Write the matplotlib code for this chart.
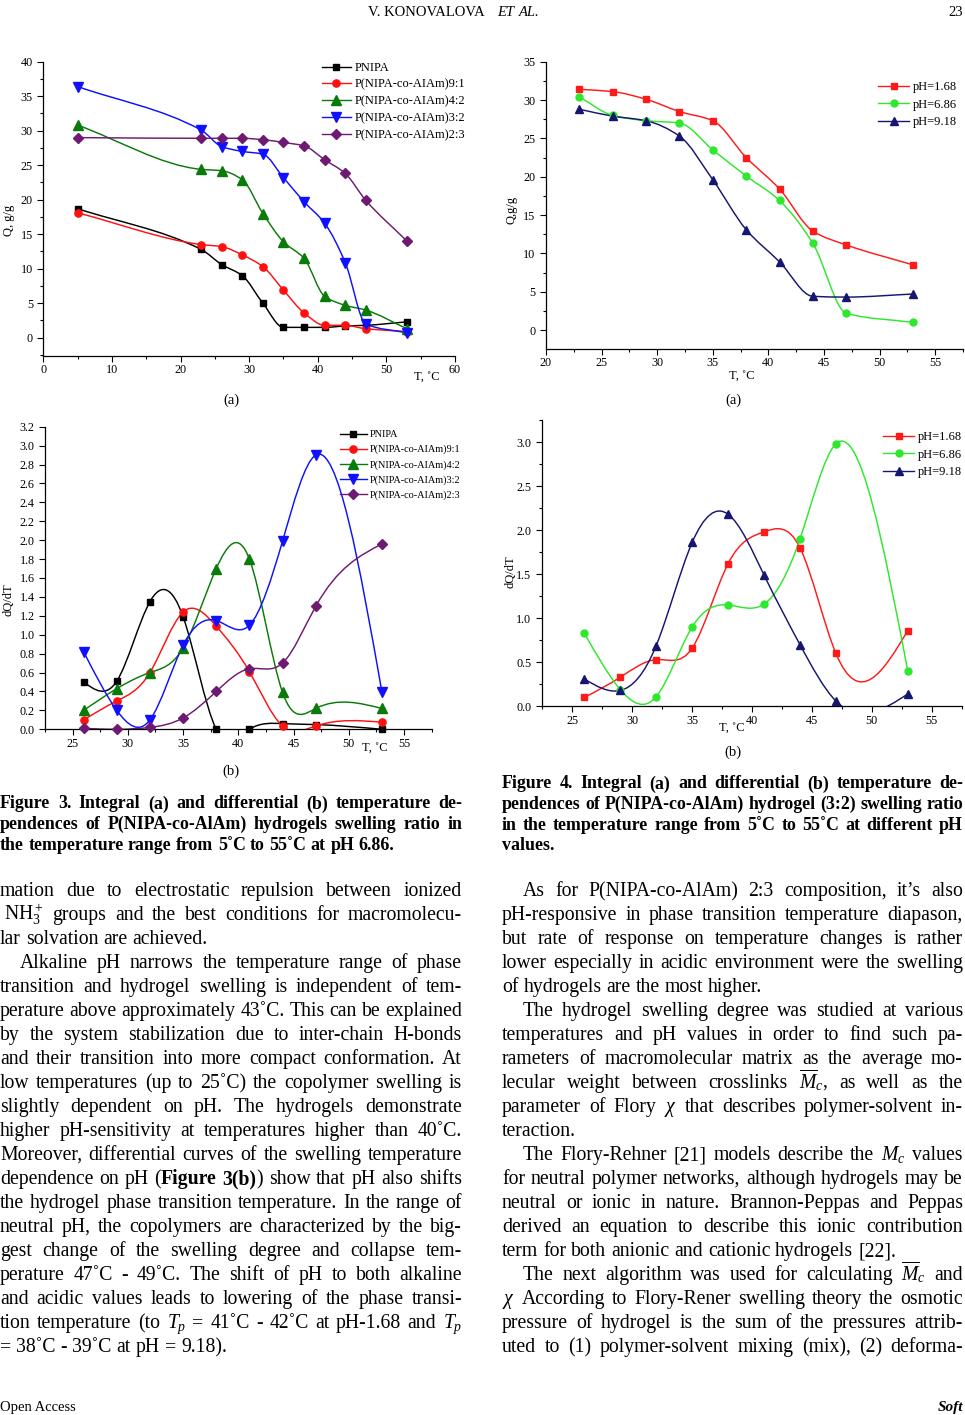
import numpy as np
import matplotlib
matplotlib.use('Agg')
import matplotlib.pyplot as plt
from matplotlib.path import Path
from matplotlib.patches import PathPatch
from matplotlib.lines import Line2D
from matplotlib.ticker import MultipleLocator

plt.rcParams['font.family'] = ['Liberation Serif', 'DejaVu Serif']
plt.rcParams['mathtext.fontset'] = 'custom'
plt.rcParams['mathtext.rm'] = 'Liberation Serif'
plt.rcParams['mathtext.it'] = 'Liberation Serif:italic'
plt.rcParams['mathtext.bf'] = 'Liberation Serif:bold'

W, H = 965, 1415

# ---- Figure 3(a): swelling ratio Q vs T, pH 6.86
t_3a = [5, 23, 26, 29, 32, 35, 38, 41, 44, 47, 53]
q_pnipa = [18.7, 12.8, 10.6, 9.0, 5.0, 1.5, 1.5, 1.5, 1.7, 1.8, 2.3]
q_91 = [18.1, 13.5, 13.2, 12.0, 10.3, 6.9, 3.6, 1.8, 1.8, 1.3, 0.9]
q_42 = [30.8, 24.4, 24.2, 22.9, 18.0, 13.9, 11.5, 6.0, 4.7, 4.0, 1.3]
q_32 = [36.4, 30.1, 27.7, 27.0, 26.6, 23.2, 19.7, 16.6, 10.9, 2.0, 0.7]
q_23 = [29.0, 28.9, 28.9, 28.9, 28.7, 28.3, 27.8, 25.8, 23.8, 19.9, 14.0]

# ---- Figure 3(b): dQ/dT
t_3b = [26, 29, 32, 35, 38, 41, 44, 47, 53]
d_pnipa = [0.50, 0.51, 1.35, 1.19, 0.0, 0.0, 0.06, 0.05, 0.0]
d_91 = [0.10, 0.30, 0.60, 1.24, 1.09, 0.61, 0.035, 0.035, 0.075]
d_42 = [0.20, 0.43, 0.60, 0.86, 1.70, 1.80, 0.39, 0.22, 0.22]
d_32 = [0.82, 0.20, 0.10, 0.89, 1.15, 1.10, 1.99, 2.90, 0.39]
d_23 = [0.01, 0.0, 0.02, 0.12, 0.40, 0.64, 0.70, 1.30, 1.96]

# ---- Figure 4(a): hydrogel 3:2 at different pH
t_4a = [23, 26, 29, 32, 35, 38, 41, 44, 47, 53]
q_ph168 = [31.4, 31.1, 30.1, 28.5, 27.3, 22.5, 18.4, 12.9, 11.1, 8.5]
q_ph686 = [30.4, 28.0, 27.3, 27.0, 23.5, 20.1, 16.9, 11.3, 2.2, 1.0]
q_ph918 = [28.8, 27.9, 27.3, 25.3, 19.6, 13.1, 8.9, 4.4, 4.3, 4.7]

# ---- Figure 4(b): dQ/dT at different pH
t_4b = [26, 29, 32, 35, 38, 41, 44, 47, 53]
d_ph168 = [0.10, 0.33, 0.53, 0.66, 1.62, 1.98, 1.80, 0.60, 0.86]
d_ph686 = [0.83, 0.19, 0.11, 0.90, 1.15, 1.16, 1.90, 2.98, 0.40]
d_ph918 = [0.31, 0.18, 0.69, 1.86, 2.18, 1.49, 0.70, 0.06, 0.14]

names_3 = ['PNIPA', 'P(NIPA-co-AIAm)9:1', 'P(NIPA-co-AIAm)4:2',
           'P(NIPA-co-AIAm)3:2', 'P(NIPA-co-AIAm)2:3']
names_4 = ['pH=1.68', 'pH=6.86', 'pH=9.18']

col3 = ['black', '#ff1010', '#0a7a0a', '#1010ff', '#6e1a72']
mk3 = ['s', 'o', '^', 'v', 'D']
ms3 = [4.8, 5.2, 6.8, 6.8, 5.2]
col4 = ['#ff1a1a', '#2ee82e', '#161670']
mk4 = ['s', 'o', '^']
ms4 = [5, 5, 6]


def tangents(x, y, mode):
    h = np.diff(x)
    d = np.diff(y) / h
    n = len(x)
    m = np.empty(n)
    if mode == 'natural':
        A = np.zeros((n, n))
        rhs = np.zeros(n)
        A[0, 0] = A[-1, -1] = 1
        for i in range(1, n - 1):
            A[i, i - 1] = h[i - 1]
            A[i, i] = 2 * (h[i - 1] + h[i])
            A[i, i + 1] = h[i]
            rhs[i] = 6 * (d[i] - d[i - 1])
        M = np.linalg.solve(A, rhs)
        m[:-1] = d - h * (2 * M[:-1] + M[1:]) / 6
        m[-1] = d[-1] + h[-1] * (M[-2] + 2 * M[-1]) / 6
    else:
        # shape preserving (pchip like)
        m[0], m[-1] = d[0], d[-1]
        for i in range(1, n - 1):
            if d[i - 1] * d[i] <= 0:
                m[i] = 0
            else:
                w1 = 2 * h[i] + h[i - 1]
                w2 = h[i] + 2 * h[i - 1]
                m[i] = (w1 + w2) / (w1 / d[i - 1] + w2 / d[i])
    return m


def spline_path(x, y, mode):
    x = np.asarray(x, float)
    y = np.asarray(y, float)
    h = np.diff(x)
    m = tangents(x, y, mode)
    verts = [(x[0], y[0])]
    codes = [Path.MOVETO]
    for i in range(len(x) - 1):
        verts += [(x[i] + h[i] / 3, y[i] + m[i] * h[i] / 3),
                  (x[i + 1] - h[i] / 3, y[i + 1] - m[i + 1] * h[i] / 3),
                  (x[i + 1], y[i + 1])]
        codes += [Path.CURVE4] * 3
    return Path(verts, codes)


fig = plt.figure(figsize=(W / 100, H / 100), dpi=100)
fig.patch.set_facecolor('white')


def add_ax(l, t, r, b):
    ax = fig.add_axes([l / W, 1 - b / H, (r - l) / W, (b - t) / H])
    ax.patch.set_alpha(0)
    ax.spines['top'].set_visible(False)
    ax.spines['right'].set_visible(False)
    for s in ['left', 'bottom']:
        ax.spines[s].set_linewidth(0.9)
    ax.tick_params(which='both', direction='out', labelsize=8.7, width=0.8)
    ax.tick_params(which='major', length=4)
    ax.tick_params(which='minor', length=2.2)
    ax.tick_params(axis='x', which='major', pad=2)
    return ax


def draw_series(ax, x, ys, cols, mks, mss, mode):
    for y, c, m, s in zip(ys, cols, mks, mss):
        ax.add_patch(PathPatch(spline_path(x, y, mode), fc='none', ec=c, lw=1.05))
        ax.plot(x, y, ls='none', marker=m, color=c, ms=s, clip_on=False, zorder=3)


def add_legend(ax, labels, cols, mks, mss, px, py, fs, spacing, hl):
    hs = [Line2D([], [], color=c, marker=m, ms=s, lw=1.0)
          for c, m, s in zip(cols, mks, mss)]
    ax.legend(hs, labels, loc='upper left', bbox_to_anchor=(px / W, 1 - py / H),
              bbox_transform=fig.transFigure, frameon=False, fontsize=fs,
              handlelength=hl, handletextpad=0.3, labelspacing=spacing,
              borderpad=0, borderaxespad=0)


def labels_px(ax, box, xl, yl, fs=9):
    l, t, r, b = box
    ax.set_xlabel(xl[0], fontsize=fs, va='center')
    ax.xaxis.set_label_coords((xl[1] - l) / (r - l), (b - xl[2]) / (b - t))
    ax.set_ylabel(yl[0], fontsize=fs, va='center')
    ax.yaxis.set_label_coords((yl[1] - l) / (r - l), (b - yl[2]) / (b - t))


# Figure 3(a)
box = (43.3, 61.7, 455, 356)
ax = add_ax(*box)
draw_series(ax, t_3a, [q_pnipa, q_91, q_42, q_32, q_23], col3, mk3, ms3, 'pchip')
ax.set_xlim(0, 60)
ax.set_ylim(-2.65, 40)
ax.xaxis.set_major_locator(MultipleLocator(10))
ax.xaxis.set_minor_locator(MultipleLocator(5))
ax.yaxis.set_minor_locator(MultipleLocator(2.5))
ax.set_yticks(np.arange(0, 41, 5))
labels_px(ax, box, ('T, ˚C', 427, 378), ('Q, g/g', 9, 220))
add_legend(ax, names_3, col3, mk3, ms3, 322, 62, 9, 0.38, 2.3)

# Figure 4(a)
box = (546, 61.7, 963, 348.7)
ax = add_ax(*box)
draw_series(ax, t_4a, [q_ph168, q_ph686, q_ph918], col4, mk4, ms4, 'pchip')
ax.set_xlim(20, 57.5)
ax.set_ylim(-2.43, 35)
ax.xaxis.set_minor_locator(MultipleLocator(2.5))
ax.yaxis.set_minor_locator(MultipleLocator(2.5))
ax.set_yticks(np.arange(0, 36, 5))
ax.set_xticks(np.arange(20, 56, 5))
labels_px(ax, box, ('T, ˚C', 742, 377), ('Q,g/g', 511, 210))
add_legend(ax, names_4, col4, mk4, ms4, 878, 81, 9, 0.45, 2.5)

# Figure 3(b)
box = (45, 426.7, 431.7, 729.3)
ax = add_ax(*box)
draw_series(ax, t_3b, [d_pnipa, d_91, d_42, d_32, d_23], col3, mk3, ms3, 'natural')
ax.set_xlim(22.5, 57.5)
ax.set_ylim(0, 3.2)
ax.set_xticks(np.arange(25, 56, 5))
ax.xaxis.set_minor_locator(MultipleLocator(2.5))
ax.set_yticks(np.round(np.arange(0, 3.21, 0.2), 1))
ax.yaxis.set_major_formatter(matplotlib.ticker.FormatStrFormatter('%.1f'))
labels_px(ax, box, ('T, ˚C', 375, 749), ('dQ/dT', 8, 600))
add_legend(ax, names_3, col3, mk3, ms3, 340, 430, 7.4, 0.55, 2.6)

# Figure 4(b)
box = (541.7, 420, 961.7, 706.3)
ax = add_ax(*box)
draw_series(ax, t_4b, [d_ph168, d_ph686, d_ph918], col4, mk4, ms4, 'natural')
ax.set_xlim(22.44, 57.5)
ax.set_ylim(0, 3.25)
ax.set_xticks(np.arange(25, 56, 5))
ax.xaxis.set_minor_locator(MultipleLocator(2.5))
ax.set_yticks(np.arange(0, 3.01, 0.5))
ax.yaxis.set_minor_locator(MultipleLocator(0.25))
ax.yaxis.set_major_formatter(matplotlib.ticker.FormatStrFormatter('%.1f'))
labels_px(ax, box, ('T, ˚C', 732, 729), ('dQ/dT', 511, 572))
add_legend(ax, names_4, col4, mk4, ms4, 883, 431, 9, 0.45, 2.5)

# sub captions
for s, x, y in [('(a)', 231, 400), ('(a)', 733, 400), ('(b)', 231, 771), ('(b)', 733, 752)]:
    fig.text(x / W, 1 - y / H, s, fontsize=10.5, ha='center', va='center')

# ---- page text
cap3 = ['Figure 3. Integral (a) and differential (b) temperature de-',
        'pendences of P(NIPA-co-AlAm) hydrogels swelling ratio in',
        'the temperature range from 5˚C to 55˚C at pH 6.86.|']
cap4 = ['Figure 4. Integral (a) and differential (b) temperature de-',
        'pendences of P(NIPA-co-AlAm) hydrogel (3:2) swelling ratio',
        'in the temperature range from 5˚C to 55˚C at different pH',
        'values.|']
left_text = [
    'mation due to electrostatic repulsion between ionized',
    r'$\mathrm{NH}_3^+$ groups and the best conditions for macromolecu-',
    'lar solvation are achieved.|',
    '>Alkaline pH narrows the temperature range of phase',
    'transition and hydrogel swelling is independent of tem-',
    'perature above approximately 43˚C. This can be explained',
    'by the system stabilization due to inter-chain H-bonds',
    'and their transition into more compact conformation. At',
    'low temperatures (up to 25˚C) the copolymer swelling is',
    'slightly dependent on pH. The hydrogels demonstrate',
    'higher pH-sensitivity at temperatures higher than 40˚C.',
    'Moreover, differential curves of the swelling temperature',
    'dependence on pH (*Figure 3(b)*) show that pH also shifts',
    'the hydrogel phase transition temperature. In the range of',
    'neutral pH, the copolymers are characterized by the big-',
    'gest change of the swelling degree and collapse tem-',
    'perature 47˚C - 49˚C. The shift of pH to both alkaline',
    'and acidic values leads to lowering of the phase transi-',
    r'tion temperature (to $T_p$ = 41˚C - 42˚C at pH-1.68 and $T_p$',
    '= 38˚C - 39˚C at pH = 9.18).|',
]
right_text = [
    '>As for P(NIPA-co-AlAm) 2:3 composition, it’s also',
    'pH-responsive in phase transition temperature diapason,',
    'but rate of response on temperature changes is rather',
    'lower especially in acidic environment were the swelling',
    'of hydrogels are the most higher.|',
    '>The hydrogel swelling degree was studied at various',
    'temperatures and pH values in order to find such pa-',
    'rameters of macromolecular matrix as the average mo-',
    r'lecular weight between crosslinks $\overline{M}_c$, as well as the',
    r'parameter of Flory $\chi$ that describes polymer-solvent in-',
    'teraction.|',
    r'>The Flory-Rehner [21] models describe the $M_c$ values',
    'for neutral polymer networks, although hydrogels may be',
    'neutral or ionic in nature. Brannon-Peppas and Peppas',
    'derived an equation to describe this ionic contribution',
    'term for both anionic and cationic hydrogels [22].|',
    r'>The next algorithm was used for calculating $\overline{M}_c$ and',
    r'$\chi$ According to Flory-Rener swelling theory the osmotic',
    'pressure of hydrogel is the sum of the pressures attrib-',
    'uted to (1) polymer-solvent mixing (mix), (2) deforma-',
]

renderer = fig.canvas.get_renderer()


def parse(line):
    indent = line.startswith('>')
    last = line.endswith('|')
    line = line.strip('>|')
    words = []
    bold = False
    for w in line.split(' '):
        segs = []
        for k, p in enumerate(w.split('*')):
            if k > 0:
                bold = not bold
            if p:
                segs.append((p, bold))
        words.append(segs)
    return words, indent, last


def seg_width(s, fs, bold):
    t = fig.text(0, 0, s, fontsize=fs, weight='bold' if bold else 'normal')
    w = t.get_window_extent(renderer).width
    t.remove()
    return w


def natural_width(words, fs, bold_all):
    return [sum(seg_width(s, fs, b or bold_all) for s, b in w) for w in words]


def fit_size(lines, width, bold_all, indent_px):
    best = 100
    for ln in lines:
        words, ind, last = parse(ln)
        if last:
            continue
        ws = natural_width(words, 10, bold_all)
        nat = sum(ws) + (len(ws) - 1) * 0.25 * 10 * 100 / 72
        avail = width - (indent_px if ind else 0)
        best = min(best, 10 * avail / nat)
    return best


def draw_block(lines, x0, x1, y0, dy, fs, bold_all, indent_px, first_x=None):
    for i, ln in enumerate(lines):
        words, ind, last = parse(ln)
        xs = x0 + (indent_px if ind else 0)
        if i == 1 and first_x is not None:
            xs = first_x
        ws = natural_width(words, fs, bold_all)
        space = 0.25 * fs * 100 / 72
        if not last and len(ws) > 1:
            space = (x1 - xs - sum(ws)) / (len(ws) - 1)
        y = 1 - (y0 + i * dy) / H
        x = xs
        for w, wd in zip(words, ws):
            xx = x
            for s, b in w:
                fig.text(xx / W, y, s, fontsize=fs, va='baseline',
                         weight='bold' if (b or bold_all) else 'normal')
                xx += seg_width(s, fs, b or bold_all)
            x += wd + space


body_fs = min(fit_size(left_text, 462, False, 20), fit_size(right_text, 461, False, 21))
cap_fs = min(fit_size(cap3, 462, True, 0), fit_size(cap4, 461, True, 0))

draw_block(cap3, 0, 462, 808.5, 20.8, cap_fs, True, 0)
draw_block(cap4, 502, 963, 788.5, 20.6, cap_fs, True, 0)
draw_block(left_text, 0, 462, 896, 24.0, body_fs, False, 20, first_x=4)
draw_block(right_text, 502, 963, 896, 24.0, body_fs, False, 21)

# header and footer
fig.text(368 / W, 1 - 16 / H, 'V. KONOVALOVA', fontsize=10.5, va='baseline')
fig.text(497 / W, 1 - 16 / H, 'ET', fontsize=10.5, va='baseline', style='italic')
fig.text(519 / W, 1 - 16 / H, 'AL.', fontsize=10.5, va='baseline', style='italic')
fig.text(963 / W, 1 - 16 / H, '23', fontsize=10.5, va='baseline', ha='right')
fig.text(0, 1 - 1411 / H, 'Open Access', fontsize=10.5, va='baseline')
fig.text(963 / W, 1 - 1411 / H, 'Soft', fontsize=11, va='baseline', ha='right',
         weight='bold', style='italic')

fig.savefig('out.png', dpi=100)
